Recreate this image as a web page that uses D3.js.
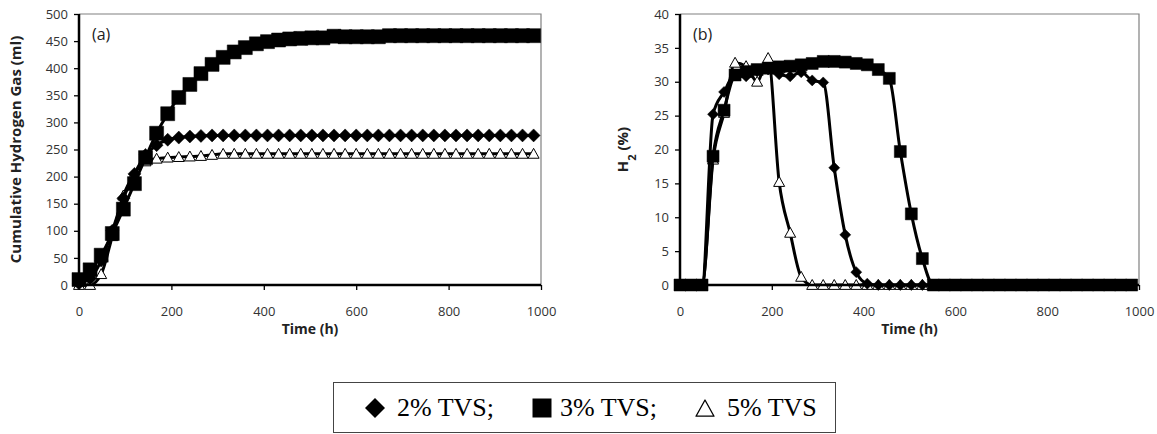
<!DOCTYPE html>
<html lang="en">
<head>
<meta charset="utf-8">
<title>Hydrogen production</title>
<script src="https://cdn.jsdelivr.net/npm/d3@7"></script>
<style>
  body { margin: 0; background: #fff; }
  svg text { font-family: "Open Sans", "DejaVu Sans", sans-serif; }
</style>
</head>
<body>
<svg id="chart" width="1157" height="434"></svg>
<script>
// sampling times (h)
var times = [0, 24, 48, 72, 96, 120, 144, 168, 192, 216, 240, 264, 288, 312, 336, 360, 384, 408, 432, 456, 480,
  504, 528, 552, 576, 600, 624, 648, 672, 696, 720, 744, 768, 792, 816, 840, 864, 888, 912, 936, 960, 984];

// (a) cumulative hydrogen (ml)
var cumTVS2 = [3, 12, 45, 100, 160, 205, 240, 258, 268, 272, 274, 275, 276, 276, 276, 276, 276, 276, 276, 276, 276,
  276, 276, 276, 276, 276, 276, 276, 276, 276, 276, 276, 276, 276, 276, 276, 276, 276, 276, 276, 276, 276];
var cumTVS3 = [10, 28, 55, 95, 140, 187, 235, 280, 316, 346, 370, 390, 407, 420, 430, 438, 445, 449, 452, 454, 455,
  456, 456, 459, 458, 458, 458, 458, 460, 460, 460, 460, 460, 460, 460, 460, 460, 460, 460, 460, 460, 460];
var cumTVS5 = [0, 0, 20, 90, 165, 205, 228, 233, 235, 236, 237, 238, 240, 242, 242, 242, 242, 242, 242, 242, 242,
  242, 242, 242, 242, 242, 242, 242, 242, 242, 242, 242, 242, 242, 242, 242, 242, 242, 242, 242, 242, 242];

// (b) H2 content (%)
var h2TVS2 = [0, 0, 0, 25.2, 28.5, 31.0, 30.8, 31.6, 31.8, 31.1, 30.8, 31.4, 30.2, 29.9, 17.3, 7.4, 1.9, 0.2, 0, 0, 0,
  0, 0, 0, 0, 0, 0, 0, 0, 0, 0, 0, 0, 0, 0, 0, 0, 0, 0, 0, 0, 0];
var h2TVS3 = [0, 0, 0, 19.0, 25.8, 31.0, 31.5, 31.8, 32.0, 32.2, 32.3, 32.5, 32.7, 33.0, 33.0, 32.9, 32.7, 32.5, 31.8, 30.5, 19.7,
  10.5, 3.9, 0, 0, 0, 0, 0, 0, 0, 0, 0, 0, 0, 0, 0, 0, 0, 0, 0, 0, 0];
var h2TVS5 = [0, 0, 0, 18.5, 25.4, 32.8, 32.3, 30.0, 33.5, 15.2, 7.7, 1.2, 0, 0, 0, 0, 0, 0, 0, 0, 0,
  0, 0, 0, 0, 0, 0, 0, 0, 0, 0, 0, 0, 0, 0, 0, 0, 0, 0, 0, 0, 0];

var xTicks = [0, 200, 400, 600, 800, 1000];
var yTicksA = [0, 50, 100, 150, 200, 250, 300, 350, 400, 450, 500];
var yTicksB = [0, 5, 10, 15, 20, 25, 30, 35, 40];
var legendLabels = ["2% TVS;", "3% TVS;", "5% TVS"];

var svg = d3.select("#chart");
svg.append("rect").attr("width", 1157).attr("height", 434).attr("fill", "#fff");

// marker shapes
function markerPath(kind, s) {
  if (kind === "diamond") return "M0," + (-s) + "L" + s + ",0L0," + s + "L" + (-s) + ",0Z";
  if (kind === "square") return "M" + (-s) + "," + (-s) + "h" + (2 * s) + "v" + (2 * s) + "h" + (-2 * s) + "Z";
  return "M0," + (-s) + "L" + s + "," + (s * 0.8) + "L" + (-s) + "," + (s * 0.8) + "Z";
}

function drawPanel(box, yMax, yTicks, series, yTitle, tag) {
  var x = d3.scaleLinear().domain([0, 1000]).range([box.left, box.right]);
  var y = d3.scaleLinear().domain([0, yMax]).range([box.bottom, box.top]);
  var g = svg.append("g");

  // plot frame (top/right)
  g.append("path")
    .attr("d", "M" + box.left + "," + box.top + "H" + box.right + "V" + box.bottom)
    .attr("fill", "none").attr("stroke", "#808080").attr("stroke-width", 1.2);

  var ax = g.append("g").attr("transform", "translate(" + box.left + ",0)")
    .call(d3.axisLeft(y).tickValues(yTicks).tickSize(5).tickPadding(6).tickFormat(d3.format("d")));
  var bx = g.append("g").attr("transform", "translate(0," + box.bottom + ")")
    .call(d3.axisBottom(x).tickValues(xTicks).tickSize(5).tickPadding(17).tickFormat(d3.format("d")));
  [ax, bx].forEach(function (a) {
    a.select(".domain").remove();
    a.selectAll(".tick line").attr("stroke", "#000").attr("stroke-width", 1.3);
    a.selectAll(".tick text").attr("fill", "#333").style("font-size", "13px")
      .style("font-family", "'Open Sans', sans-serif");
  });

  // series, bottom to top
  series.forEach(function (s) {
    var pts = times.map(function (t, i) { return [t, s.values[i]]; });
    g.append("path")
      .datum(pts)
      .attr("fill", "none").attr("stroke", "#000").attr("stroke-width", 3)
      .attr("stroke-linejoin", "round")
      .attr("d", d3.line().x(function (d) { return x(d[0]); }).y(function (d) { return y(d[1]); })
        .curve(d3.curveMonotoneX));
    g.selectAll(null).data(pts).enter().append("path")
      .attr("transform", function (d) { return "translate(" + x(d[0]) + "," + y(d[1]) + ")"; })
      .attr("d", markerPath(s.kind, s.size))
      .attr("fill", s.kind === "triangle" ? "#fff" : "#000")
      .attr("stroke", "#000").attr("stroke-width", s.kind === "triangle" ? 1 : 0.5);
  });

  // axis lines
  g.append("path")
    .attr("d", "M" + box.left + "," + box.top + "V" + box.bottom + "H" + box.right)
    .attr("fill", "none").attr("stroke", "#000").attr("stroke-width", 2.5);

  g.append("text").attr("x", box.left + 13).attr("y", 40)
    .style("font-size", "16px").attr("fill", "#222").text(tag);

  g.append("text").attr("x", (box.left + box.right) / 2).attr("y", 334)
    .attr("text-anchor", "middle").style("font-size", "14px").style("font-weight", "bold")
    .attr("fill", "#222").text("Time (h)");

  var yt = g.append("text")
    .attr("transform", "translate(" + yTitle.x + "," + (box.top + box.bottom) / 2 + ") rotate(-90)")
    .attr("text-anchor", "middle").style("font-size", yTitle.size).style("font-weight", "bold")
    .attr("fill", "#222");
  yTitle.parts.forEach(function (p) {
    var ts = yt.append("tspan").text(p.text);
    if (p.sub) ts.attr("baseline-shift", "sub").style("font-size", "11px");
  });
}

drawPanel({ left: 79, right: 541, top: 14, bottom: 285 }, 500, yTicksA, [
  { values: cumTVS5, kind: "triangle", size: 5.5 },
  { values: cumTVS2, kind: "diamond", size: 6.5 },
  { values: cumTVS3, kind: "square", size: 7 }
], { x: 21, size: "15px", parts: [{ text: "Cumulative Hydrogen Gas (ml)" }] }, "(a)");

drawPanel({ left: 680, right: 1139, top: 14, bottom: 285 }, 40, yTicksB, [
  { values: h2TVS5, kind: "triangle", size: 5.5 },
  { values: h2TVS2, kind: "diamond", size: 5.5 },
  { values: h2TVS3, kind: "square", size: 6 }
], { x: 628, size: "15px", parts: [{ text: "H" }, { text: "2", sub: true }, { text: " (%)" }] }, "(b)");

// legend
var lg = svg.append("g");
lg.append("rect").attr("x", 333.5).attr("y", 382.5).attr("width", 502).attr("height", 50)
  .attr("fill", "#fff").attr("stroke", "#444").attr("stroke-width", 1);
var legendItems = [
  { kind: "diamond", mx: 375, tx: 397 },
  { kind: "square", mx: 542, tx: 560 },
  { kind: "triangle", mx: 705, tx: 727 }
];
legendItems.forEach(function (d, i) {
  var s = d.kind === "square" ? 9.5 : (d.kind === "diamond" ? 10 : 9);
  lg.append("path")
    .attr("transform", "translate(" + d.mx + "," + (d.kind === "triangle" ? 409 : 408) + ")")
    .attr("d", markerPath(d.kind, s))
    .attr("fill", d.kind === "triangle" ? "#fff" : "#000")
    .attr("stroke", "#000").attr("stroke-width", d.kind === "triangle" ? 1.3 : 0)
    .attr("stroke-linejoin", "round");
  lg.append("text").attr("x", d.tx).attr("y", 416)
    .style("font-family", "'Liberation Serif', 'Times New Roman', serif")
    .style("font-size", "26px").attr("fill", "#000").text(legendLabels[i]);
});
</script>
</body>
</html>
